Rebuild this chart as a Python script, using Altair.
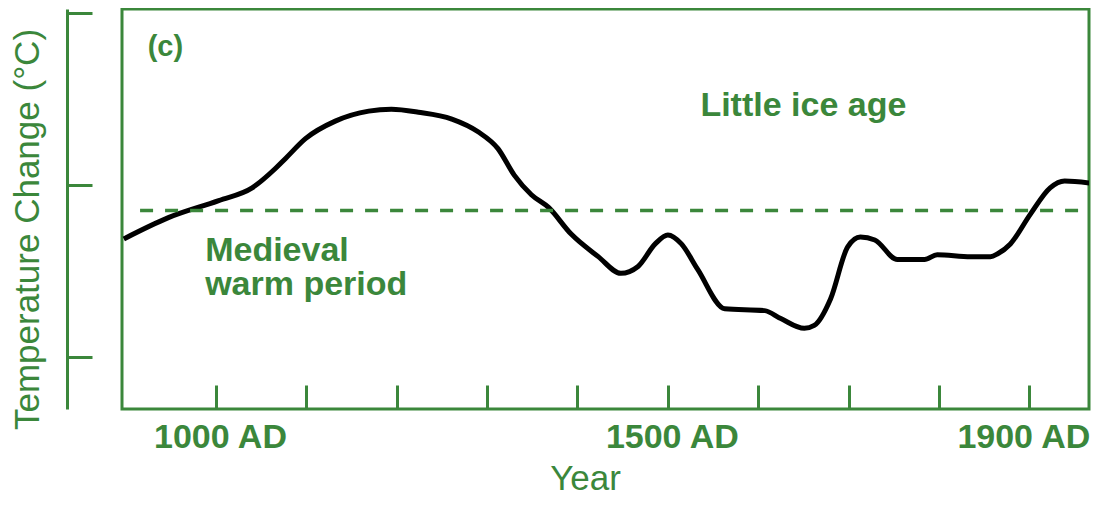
import altair as alt
import pandas as pd

# ---- data ----
years = [898, 948, 1003, 1040, 1066, 1077, 1099, 1132, 1169, 1194, 1224, 1261, 1290,
         1312, 1330, 1349, 1368, 1393, 1423, 1448, 1467, 1486, 1500, 1515, 1533, 1563,
         1607, 1625, 1651, 1662, 1680, 1699, 1713, 1729, 1754, 1784, 1798, 1835, 1857,
         1865, 1879, 1901, 1923, 1939, 1967]
temps = [-0.314, -0.189, -0.091, -0.017, 0.097, 0.154, 0.269, 0.371, 0.429, 0.44, 0.423,
         0.383, 0.309, 0.211, 0.057, -0.057, -0.131, -0.286, -0.417, -0.514, -0.474,
         -0.343, -0.291, -0.343, -0.491, -0.72, -0.731, -0.777, -0.834, -0.817, -0.663,
         -0.36, -0.303, -0.32, -0.434, -0.434, -0.406, -0.417, -0.417, -0.4, -0.343,
         -0.171, -0.017, 0.023, 0.011]

dash_start = [916]
dash_end = [1966]
dash_level = [-0.149]

tick_years = [1000, 1100, 1200, 1300, 1400, 1500, 1600, 1700, 1800, 1900]
label_years = [1000, 1500, 1900]
y_ticks = [-1, 0, 1]

note_labels = ["Little ice age", "Medieval\nwarm period"]
note_years = [1536, 988]
note_values = [0.40, -0.44]

panel_label = ["(c)"]
panel_year = [944]
panel_value = [0.80]

# ---- styling ----
GREEN = "#3b873b"
FONT = "Liberation Sans"
W, H = 967, 400
XD = [896, 1966]
YD = [-1.303, 1.023]

xs = alt.Scale(domain=XD, nice=False, zero=False)
ys = alt.Scale(domain=YD, nice=False, zero=False)

curve = pd.DataFrame({"year": years, "value": temps})
notes = pd.DataFrame({"year": note_years, "value": note_values, "label": note_labels})
panel = pd.DataFrame({"year": panel_year, "value": panel_value, "label": panel_label})
dash = pd.DataFrame({"year": dash_start, "year2": dash_end, "value": dash_level})

line = alt.Chart(curve).mark_line(
    color="black", strokeWidth=5, interpolate="monotone", clip=True
).encode(
    x=alt.X("year:Q", scale=xs,
            axis=alt.Axis(orient="bottom", values=label_years, labelExpr="datum.value + ' AD'",
                          ticks=False, domain=False, grid=False, labelFlush=False,
                          labelOffset={"condition": {"test": "datum.value == 1900", "value": -6},
                                       "value": 4},
                          labelPadding=11, title="Year", titleX=463, titleY=80,
                          titleBaseline="alphabetic", titleAlign="center")),
    y=alt.Y("value:Q", scale=ys,
            axis=alt.Axis(orient="left", offset=55, ticks=False, labels=False, grid=False,
                          domainColor=GREEN, domainWidth=3,
                          title="Temperature Change (°C)", titleX=-22, titleY=220,
                          titleAlign="center")),
)

note_text = alt.Chart(notes).mark_text(
    align="left", baseline="alphabetic", font=FONT, fontWeight="bold", fontSize=34,
    color=GREEN, lineBreak="\n", lineHeight=34
).encode(x="year:Q", y="value:Q", text="label:N")

panel_text = alt.Chart(panel).mark_text(
    align="center", baseline="middle", font=FONT, fontWeight="bold", fontSize=29, color=GREEN
).encode(x="year:Q", y="value:Q", text="label:N")

dash_rule = alt.Chart(dash).mark_rule(color=GREEN, strokeWidth=3.5, strokeDash=[13, 12]).encode(
    x=alt.X("year:Q", scale=xs,
            axis=alt.Axis(orient="top", offset=-H, values=tick_years, labels=False, domain=False,
                          grid=False, tickSize=24, tickWidth=3, tickColor=GREEN, title="")),
    x2="year2:Q",
    y=alt.Y("value:Q", scale=ys,
            axis=alt.Axis(orient="right", offset=-(W + 55), values=y_ticks, labels=False,
                          domain=False, grid=False, tickSize=25, tickWidth=3, tickColor=GREEN,
                          title="")),
)

chart = alt.layer(
    alt.layer(line, note_text, panel_text), dash_rule
).resolve_scale(x="independent", y="independent").properties(
    width=W, height=H,
    autosize=alt.AutoSizeParams(type="none"),
    padding={"left": 114, "top": 1, "right": 2, "bottom": 88}
).configure_view(
    stroke=GREEN, strokeWidth=3
).configure_axis(
    grid=False, labelFont=FONT, labelFontWeight="bold", labelFontSize=34, labelColor=GREEN,
    titleFont=FONT, titleFontWeight="normal", titleFontSize=35, titleColor=GREEN
)

chart.save("out.html", embed_options={"renderer": "svg", "actions": False})
